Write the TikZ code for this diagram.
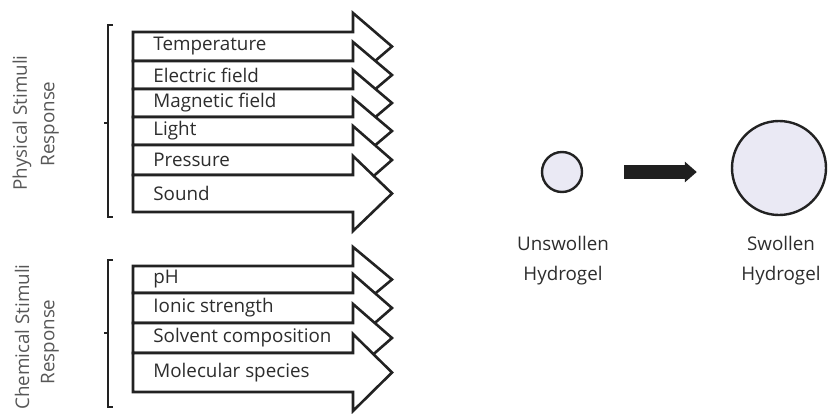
\documentclass[tikz,border=0pt]{standalone}
\usepackage{fontspec}
\setmainfont{Open Sans}
\usepackage{xcolor}
\usepackage{tikz}
\usetikzlibrary{positioning, arrows.meta, calc}
\definecolor{inkgray}{RGB}{34,34,34}
\definecolor{textgray}{RGB}{45,45,45}
\definecolor{gelfill}{RGB}{234,233,244}

\begin{document}
\begin{tikzpicture}[
    x=0.5pt, y=-0.5pt,
    font=\fontsize{9.4}{15}\selectfont,
    stimarrow/.style={
        draw=inkgray,
        line width=1.3pt,
        fill=white,
        line join=miter
    },
    stimlabel/.style={anchor=west, text=textgray, inner sep=0pt},
    bracket/.style={draw=inkgray, line width=1.3pt},
    sidelabel/.style={rotate=90, text=textgray!80, inner sep=0pt},
    gel/.style={
        circle,
        draw=inkgray,
        line width=1.2pt,
        fill=gelfill,
        inner sep=0pt
    },
    swell/.style={-{Triangle[length=6pt, width=10pt]}, line width=7pt, draw=black!88},
    caption/.style={align=center, text=textgray, inner sep=0pt}
]
\useasboundingbox (0,0) rectangle (829,413);

% physical stimuli
\draw[stimarrow] (133,32) -- (353,32) -- (353,13) -- (392,46.5) -- (353,80) -- (353,61) -- (133,61) -- cycle;
\draw[stimarrow] (133,61) -- (353,61) -- (353,42) -- (392,75) -- (353,108) -- (353,89) -- (133,89) -- cycle;
\draw[stimarrow] (133,89) -- (353,89) -- (353,70) -- (392,103) -- (353,136) -- (353,117) -- (133,117) -- cycle;
\draw[stimarrow] (133,117) -- (353,117) -- (353,98) -- (392,131) -- (353,164) -- (353,145) -- (133,145) -- cycle;
\draw[stimarrow] (133,145) -- (353,145) -- (353,126) -- (392,160) -- (353,194) -- (353,175) -- (133,175) -- cycle;
\draw[stimarrow] (133,175) -- (353,175) -- (353,156) -- (392,193.5) -- (353,231) -- (353,212) -- (133,212) -- cycle;

\node[stimlabel] (temp)     at (153,46.5) {Temperature};
\node[stimlabel] (efield)   at (153,75)   {Electric field};
\node[stimlabel] (mfield)   at (153,103)  {Magnetic field};
\node[stimlabel] (light)    at (153,131)  {Light};
\node[stimlabel] (pressure) at (153,160)  {Pressure};
\node[stimlabel] (sound)    at (153,193.5) {Sound};

\draw[bracket] (113,25) -- (108,25) -- (108,217) -- (113,217);
\draw[bracket] (108,123) -- (104,123);
\node[sidelabel] (phys)     at (22,123) {Physical Stimuli};
\node[sidelabel] (physresp) at (50,124) {Response};

% chemical stimuli
\draw[stimarrow] (133,266) -- (353,266) -- (353,247) -- (392,279.5) -- (353,312) -- (353,293) -- (133,293) -- cycle;
\draw[stimarrow] (133,293) -- (353,293) -- (353,274) -- (392,308) -- (353,342) -- (353,323) -- (133,323) -- cycle;
\draw[stimarrow] (133,323) -- (353,323) -- (353,304) -- (392,338) -- (353,372) -- (353,353) -- (133,353) -- cycle;
\draw[stimarrow] (133,353) -- (353,353) -- (353,334) -- (392,372.5) -- (353,411) -- (353,392) -- (133,392) -- cycle;

\node[stimlabel] (ph)        at (153,279.5) {pH};
\node[stimlabel] (ionic)     at (153,308)   {Ionic strength};
\node[stimlabel] (solvent)   at (153,338)   {Solvent composition};
\node[stimlabel] (molecular) at (153,372.5) {Molecular species};

\draw[bracket] (113,260) -- (108,260) -- (108,407) -- (113,407);
\draw[bracket] (108,333) -- (104,333);
\node[sidelabel] (chem)     at (22,337) {Chemical Stimuli};
\node[sidelabel] (chemresp) at (50,342) {Response};

% hydrogel swelling
\node[gel, minimum size=20pt] (unswollen) at (562,172) {};
\node[gel, minimum size=47pt] (swollen)   at (779,168) {};
\draw[swell, shorten <=20.5pt, shorten >=17pt] (unswollen.east) -- (unswollen.east -| swollen.west);

\node[caption] (unswollentext) at (563,261) {Unswollen\\Hydrogel};
\node[caption] (swollentext)   at (781,261) {Swollen\\Hydrogel};

\end{tikzpicture}
\end{document}
